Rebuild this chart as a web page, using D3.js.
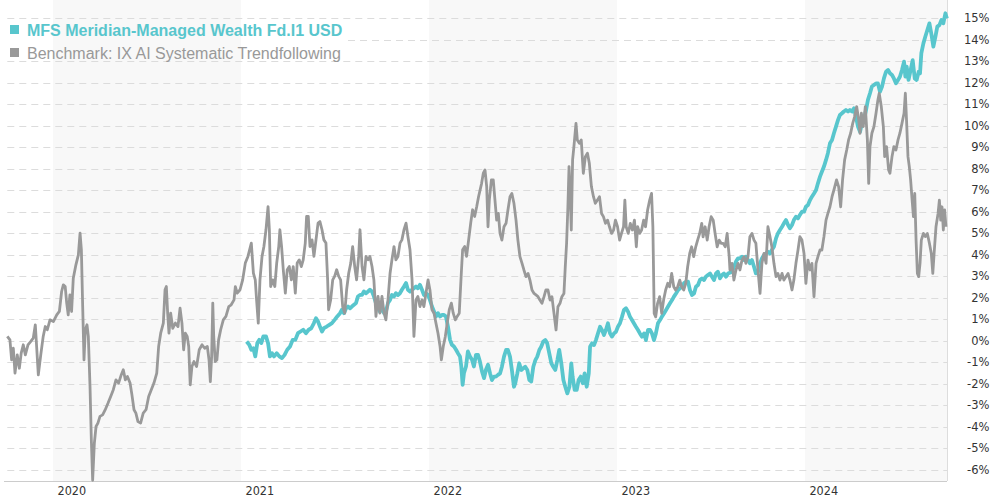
<!DOCTYPE html>
<html><head><meta charset="utf-8">
<script src="https://cdn.jsdelivr.net/npm/d3@7"></script>
<style>html,body{margin:0;padding:0;background:#fff;}svg{display:block;}</style>
</head><body>
<svg id="chart" width="990" height="500"></svg>
<script>
// ---- data (decimal year, % change) ----
const seriesNames = ["MFS Meridian-Managed Wealth Fd.I1 USD", "Benchmark: IX AI Systematic Trendfollowing"];
const yearTicks = [2020, 2021, 2022, 2023, 2024];
const yTicks = [-6,-5,-4,-3,-2,-1,0,1,2,3,4,5,6,7,8,9,10,11,12,13,14,15];

const benchmark = [
[2019.757,0.19],[2019.771,0.03],[2019.780,-0.9],[2019.789,-0.36],[2019.798,-1.52],[2019.810,-0.67],[2019.821,-1.29],[2019.831,-0.59],[2019.842,-0.2],[2019.853,-0.67],[2019.867,-0.2],[2019.881,-0.05],[2019.895,0.11],[2019.906,0.73],[2019.913,-0.28],[2019.922,-1.6],[2019.935,-0.67],[2019.948,0.19],[2019.959,0.65],[2019.970,0.5],[2019.984,0.96],
[2020.002,0.88],[2020.020,1.19],[2020.034,1.35],[2020.046,2.28],[2020.055,2.59],[2020.065,2.51],[2020.073,1.74],[2020.081,1.19],[2020.090,2.12],[2020.099,1.35],[2020.108,2.9],[2020.122,3.52],[2020.135,3.98],[2020.144,4.99],[2020.151,4.22],[2020.158,1.58],[2020.165,-0.9],[2020.172,0.5],[2020.181,0.73],[2020.188,0.19],[2020.197,-2.14],[2020.204,-4.62],[2020.211,-6.5],[2020.220,-4.78],[2020.229,-4.0],[2020.239,-3.84],[2020.250,-3.53],[2020.264,-3.46],[2020.278,-3.22],[2020.293,-2.91],[2020.307,-2.6],[2020.321,-2.29],[2020.335,-1.83],[2020.349,-1.98],[2020.363,-1.6],[2020.374,-1.36],[2020.385,-1.83],[2020.396,-1.67],[2020.410,-1.98],[2020.420,-2.53],[2020.431,-3.22],[2020.441,-3.38],[2020.452,-3.77],[2020.466,-3.84],[2020.480,-3.38],[2020.495,-3.22],[2020.509,-2.6],[2020.523,-2.29],[2020.537,-1.98],[2020.552,-1.52],[2020.562,-0.28],[2020.573,0.34],[2020.587,0.81],[2020.596,2.36],[2020.603,2.51],[2020.610,1.27],[2020.617,0.34],[2020.626,1.27],[2020.637,0.57],[2020.651,0.81],[2020.665,0.65],[2020.676,1.5],[2020.686,0.81],[2020.695,-0.43],[2020.704,0.34],[2020.714,0.19],[2020.722,-0.28],[2020.730,-2.06],[2020.739,-1.21],[2020.750,-0.98],[2020.764,-1.21],[2020.778,-0.43],[2020.793,-0.2],[2020.807,-0.36],[2020.821,-0.28],[2020.830,-0.9],[2020.837,-1.91],[2020.844,-0.74],[2020.850,1.74],[2020.855,0.19],[2020.863,-0.98],[2020.872,-0.9],[2020.881,0.03],[2020.892,0.5],[2020.906,0.96],[2020.920,1.12],[2020.935,1.58],[2020.948,1.66],[2020.963,1.89],[2020.970,2.51],[2020.980,2.2],[2020.995,2.36],
[2021.009,2.82],[2021.023,3.6],[2021.037,3.91],[2021.055,4.53],[2021.066,3.13],[2021.076,2.82],[2021.083,1.89],[2021.092,0.81],[2021.101,2.82],[2021.112,3.91],[2021.122,4.37],[2021.133,5.15],[2021.144,6.23],[2021.151,5.15],[2021.158,2.51],[2021.169,2.82],[2021.180,2.51],[2021.190,3.6],[2021.201,4.37],[2021.207,5.15],[2021.216,4.37],[2021.225,3.29],[2021.236,2.2],[2021.246,3.29],[2021.257,3.44],[2021.268,2.82],[2021.278,3.44],[2021.289,2.2],[2021.299,3.6],[2021.310,3.75],[2021.321,3.44],[2021.331,3.75],[2021.342,4.53],[2021.349,5.77],[2021.358,5.77],[2021.367,4.37],[2021.378,4.68],[2021.388,3.91],[2021.399,4.68],[2021.410,5.46],[2021.420,5.53],[2021.431,5.15],[2021.441,4.68],[2021.452,4.53],[2021.461,2.82],[2021.466,1.43],[2021.477,1.89],[2021.488,2.82],[2021.498,2.98],[2021.509,3.29],[2021.520,2.98],[2021.530,2.82],[2021.541,1.58],[2021.552,1.27],[2021.562,2.36],[2021.573,3.13],[2021.584,3.6],[2021.594,4.37],[2021.605,3.44],[2021.615,2.82],[2021.626,3.91],[2021.633,5.15],[2021.644,3.44],[2021.654,2.82],[2021.665,3.91],[2021.676,3.75],[2021.686,3.91],[2021.697,3.44],[2021.707,2.82],[2021.718,1.12],[2021.729,2.05],[2021.739,1.27],[2021.750,2.05],[2021.761,1.27],[2021.771,0.96],[2021.782,1.89],[2021.793,3.13],[2021.803,3.75],[2021.814,4.37],[2021.824,3.75],[2021.835,3.91],[2021.846,4.53],[2021.856,4.68],[2021.867,5.15],[2021.878,5.46],[2021.888,4.84],[2021.899,4.22],[2021.910,2.82],[2021.920,0.19],[2021.931,1.89],[2021.941,2.05],[2021.952,1.58],[2021.963,1.89],[2021.973,1.58],[2021.984,2.2],[2021.995,2.82],
[2022.005,2.36],[2022.016,1.43],[2022.027,1.27],[2022.037,0.81],[2022.048,0.34],[2022.059,-0.28],[2022.066,-0.9],[2022.076,-0.28],[2022.087,0.19],[2022.097,0.81],[2022.108,1.43],[2022.119,1.74],[2022.129,1.27],[2022.140,0.96],[2022.150,1.12],[2022.161,1.27],[2022.172,3.13],[2022.179,4.22],[2022.190,4.37],[2022.200,3.91],[2022.211,4.68],[2022.222,5.46],[2022.232,6.08],[2022.243,5.77],[2022.254,6.23],[2022.264,6.7],[2022.280,7.31],[2022.289,7.78],[2022.298,7.93],[2022.307,7.16],[2022.314,5.29],[2022.321,6.53],[2022.332,7.47],[2022.342,7.47],[2022.351,6.53],[2022.360,5.6],[2022.369,5.91],[2022.378,4.98],[2022.388,4.67],[2022.399,5.29],[2022.410,5.45],[2022.420,6.07],[2022.431,6.69],[2022.441,6.84],[2022.452,6.38],[2022.463,5.6],[2022.473,4.67],[2022.484,3.9],[2022.495,3.59],[2022.505,3.28],[2022.516,2.97],[2022.527,3.12],[2022.537,2.81],[2022.548,2.35],[2022.559,2.19],[2022.569,2.12],[2022.580,2.04],[2022.590,1.88],[2022.601,1.73],[2022.612,2.04],[2022.622,2.35],[2022.633,2.35],[2022.644,1.88],[2022.654,2.04],[2022.665,1.26],[2022.676,0.49],[2022.686,1.57],[2022.697,1.73],[2022.707,2.04],[2022.718,2.19],[2022.725,3.43],[2022.732,4.52],[2022.739,6.22],[2022.745,8.09],[2022.750,7.16],[2022.757,5.14],[2022.764,8.4],[2022.771,9.02],[2022.782,10.1],[2022.789,9.33],[2022.800,9.17],[2022.810,9.33],[2022.821,7.78],[2022.832,8.55],[2022.843,8.71],[2022.853,8.24],[2022.864,7.16],[2022.875,6.69],[2022.885,6.38],[2022.896,6.53],[2022.907,6.69],[2022.918,5.91],[2022.928,5.76],[2022.939,5.45],[2022.950,5.6],[2022.960,5.29],[2022.971,4.98],[2022.982,5.14],[2022.992,5.6],
[2023.003,5.29],[2023.014,4.67],[2023.024,4.98],[2023.035,5.29],[2023.042,6.53],[2023.049,5.29],[2023.060,4.98],[2023.071,5.45],[2023.082,5.14],[2023.093,5.6],[2023.103,4.36],[2023.110,5.29],[2023.121,4.98],[2023.131,5.14],[2023.142,5.6],[2023.152,5.29],[2023.163,6.07],[2023.174,6.53],[2023.184,6.84],[2023.191,5.29],[2023.198,1.26],[2023.206,1.1],[2023.216,1.73],[2023.227,2.04],[2023.238,1.26],[2023.248,1.88],[2023.259,2.35],[2023.270,2.66],[2023.280,2.5],[2023.291,3.12],[2023.302,2.5],[2023.312,2.35],[2023.323,2.5],[2023.334,2.81],[2023.344,2.5],[2023.355,2.35],[2023.366,2.66],[2023.376,3.43],[2023.387,4.05],[2023.397,4.36],[2023.408,3.9],[2023.419,4.36],[2023.429,4.67],[2023.440,4.98],[2023.451,5.45],[2023.458,4.82],[2023.469,5.29],[2023.480,4.67],[2023.490,5.29],[2023.501,5.76],[2023.512,5.6],[2023.522,4.98],[2023.533,4.36],[2023.544,4.67],[2023.554,4.52],[2023.565,4.52],[2023.576,4.36],[2023.586,4.98],[2023.597,3.9],[2023.601,3.28],[2023.612,3.59],[2023.622,2.81],[2023.633,3.28],[2023.644,3.59],[2023.654,3.28],[2023.665,3.74],[2023.676,3.9],[2023.686,3.59],[2023.697,3.9],[2023.707,4.83],[2023.718,4.98],[2023.729,4.67],[2023.739,4.52],[2023.750,3.28],[2023.761,2.19],[2023.771,3.59],[2023.782,4.05],[2023.793,3.59],[2023.803,5.29],[2023.814,4.83],[2023.824,4.36],[2023.835,3.59],[2023.846,2.97],[2023.856,3.12],[2023.867,2.81],[2023.878,3.12],[2023.888,2.81],[2023.899,2.97],[2023.910,3.12],[2023.920,2.81],[2023.931,2.35],[2023.941,2.81],[2023.952,3.59],[2023.963,4.21],[2023.973,4.83],[2023.984,4.67],[2023.995,4.05],
[2024.005,2.66],[2024.016,3.74],[2024.027,3.28],[2024.037,3.59],[2024.048,2.04],[2024.059,3.59],[2024.069,3.9],[2024.080,4.21],[2024.090,4.21],[2024.101,4.83],[2024.112,5.6],[2024.122,5.91],[2024.133,6.22],[2024.144,6.69],[2024.154,7.0],[2024.168,7.47],[2024.179,7.16],[2024.190,6.22],[2024.200,7.47],[2024.211,8.4],[2024.222,8.86],[2024.232,9.33],[2024.243,9.64],[2024.254,10.1],[2024.264,10.4],[2024.275,10.88],[2024.286,10.26],[2024.293,9.64],[2024.300,10.57],[2024.310,9.95],[2024.321,10.88],[2024.332,9.33],[2024.339,7.31],[2024.346,9.02],[2024.356,9.64],[2024.367,9.95],[2024.378,10.57],[2024.388,11.19],[2024.395,11.5],[2024.406,10.88],[2024.417,9.95],[2024.424,8.55],[2024.434,9.02],[2024.445,7.93],[2024.452,7.78],[2024.463,8.55],[2024.473,9.02],[2024.484,8.86],[2024.495,9.33],[2024.505,9.64],[2024.516,10.1],[2024.527,10.57],[2024.534,11.5],[2024.541,10.1],[2024.548,8.55],[2024.555,8.09],[2024.562,7.47],[2024.570,6.53],[2024.577,5.76],[2024.584,6.84],[2024.591,4.67],[2024.598,3.12],[2024.605,2.97],[2024.612,3.59],[2024.619,4.67],[2024.630,4.98],[2024.640,4.83],[2024.651,4.98],[2024.662,4.52],[2024.672,4.05],[2024.680,3.12],[2024.687,4.05],[2024.697,5.29],[2024.708,5.91],[2024.715,6.53],[2024.722,5.6],[2024.729,6.22],[2024.736,5.14],[2024.743,6.07],[2024.750,5.29]
];

const fund = [
[2021.030,-0.05],[2021.044,-0.2],[2021.055,-0.43],[2021.066,-0.36],[2021.076,-0.74],[2021.087,-0.12],[2021.097,0.03],[2021.108,-0.12],[2021.119,0.19],[2021.133,0.19],[2021.144,-0.12],[2021.154,-0.74],[2021.165,-0.59],[2021.176,-0.74],[2021.190,-0.59],[2021.204,-0.74],[2021.218,-0.82],[2021.232,-0.67],[2021.246,-0.43],[2021.261,-0.28],[2021.275,0.03],[2021.289,0.03],[2021.303,0.34],[2021.317,0.42],[2021.331,0.5],[2021.346,0.34],[2021.360,0.5],[2021.374,0.57],[2021.388,0.81],[2021.399,1.04],[2021.410,0.88],[2021.420,0.65],[2021.431,0.42],[2021.441,0.57],[2021.456,0.65],[2021.470,0.73],[2021.484,0.81],[2021.498,0.96],[2021.512,1.12],[2021.527,1.27],[2021.537,1.43],[2021.548,1.27],[2021.559,1.5],[2021.569,1.58],[2021.580,1.5],[2021.590,1.58],[2021.601,1.66],[2021.612,1.74],[2021.622,2.05],[2021.633,2.12],[2021.644,2.12],[2021.654,2.28],[2021.665,2.2],[2021.676,2.28],[2021.686,2.36],[2021.697,2.28],[2021.707,2.05],[2021.718,1.74],[2021.729,1.58],[2021.739,1.35],[2021.750,1.58],[2021.761,1.27],[2021.771,1.35],[2021.782,1.74],[2021.793,1.89],[2021.803,2.12],[2021.814,2.05],[2021.824,2.2],[2021.835,2.12],[2021.846,2.2],[2021.856,2.36],[2021.867,2.51],[2021.878,2.67],[2021.888,2.36],[2021.899,2.28],[2021.910,2.36],[2021.920,2.43],[2021.931,2.51],[2021.941,2.43],[2021.952,2.59],[2021.963,2.36],[2021.973,2.12],[2021.984,2.2],[2021.995,2.12],
[2022.005,1.89],[2022.016,1.58],[2022.027,1.35],[2022.037,1.12],[2022.048,1.27],[2022.059,1.12],[2022.069,1.19],[2022.080,1.19],[2022.090,1.12],[2022.101,0.65],[2022.112,0.03],[2022.122,-0.2],[2022.133,-0.28],[2022.144,-0.43],[2022.154,-0.59],[2022.165,-0.74],[2022.172,-1.21],[2022.179,-2.06],[2022.186,-1.52],[2022.197,-1.21],[2022.207,-0.51],[2022.218,-0.74],[2022.229,-0.9],[2022.239,-1.21],[2022.250,-0.67],[2022.261,-0.67],[2022.271,-0.98],[2022.282,-1.44],[2022.293,-1.75],[2022.303,-1.36],[2022.314,-1.13],[2022.325,-1.53],[2022.335,-1.84],[2022.346,-1.68],[2022.356,-1.68],[2022.367,-1.6],[2022.378,-1.53],[2022.388,-1.22],[2022.399,-0.75],[2022.410,-0.44],[2022.420,-0.44],[2022.431,-0.75],[2022.441,-1.37],[2022.452,-2.15],[2022.459,-1.99],[2022.470,-1.53],[2022.480,-1.06],[2022.491,-1.37],[2022.502,-1.29],[2022.512,-1.22],[2022.523,-1.37],[2022.534,-1.84],[2022.544,-1.91],[2022.555,-1.22],[2022.566,-0.91],[2022.576,-0.75],[2022.587,-0.44],[2022.597,-0.29],[2022.608,-0.05],[2022.619,0.02],[2022.629,-0.13],[2022.640,-0.6],[2022.651,-1.06],[2022.661,-1.22],[2022.672,-1.37],[2022.683,-0.91],[2022.693,-0.44],[2022.704,-1.06],[2022.715,-1.84],[2022.725,-2.15],[2022.736,-2.46],[2022.747,-2.15],[2022.757,-1.06],[2022.764,-1.68],[2022.775,-2.3],[2022.786,-2.3],[2022.796,-1.84],[2022.807,-1.68],[2022.818,-1.99],[2022.828,-1.53],[2022.839,-2.15],[2022.850,-1.53],[2022.857,-0.29],[2022.867,-0.13],[2022.878,-0.21],[2022.888,0.02],[2022.899,0.33],[2022.910,0.64],[2022.920,0.49],[2022.931,0.26],[2022.941,0.49],[2022.952,0.8],[2022.963,0.33],[2022.973,0.18],[2022.984,0.33],[2022.995,0.41],
[2023.005,0.64],[2023.016,0.8],[2023.027,1.11],[2023.037,1.42],[2023.048,1.5],[2023.059,1.34],[2023.069,1.11],[2023.080,0.95],[2023.090,0.8],[2023.101,0.64],[2023.112,0.49],[2023.122,0.33],[2023.133,0.18],[2023.144,0.33],[2023.154,0.02],[2023.165,0.49],[2023.176,0.49],[2023.186,0.33],[2023.197,0.02],[2023.207,0.33],[2023.218,0.8],[2023.229,0.95],[2023.239,1.11],[2023.250,1.26],[2023.261,1.42],[2023.271,1.57],[2023.282,1.73],[2023.293,1.88],[2023.303,2.04],[2023.314,2.19],[2023.325,2.35],[2023.335,2.43],[2023.346,2.5],[2023.356,2.66],[2023.367,2.74],[2023.378,2.74],[2023.388,2.35],[2023.399,2.12],[2023.410,2.19],[2023.420,2.5],[2023.431,2.58],[2023.441,2.81],[2023.452,2.89],[2023.463,2.81],[2023.473,2.97],[2023.484,3.05],[2023.495,3.12],[2023.505,2.97],[2023.516,2.81],[2023.527,3.12],[2023.537,3.2],[2023.548,2.89],[2023.559,3.05],[2023.569,3.12],[2023.580,2.97],[2023.591,3.12],[2023.612,3.2],[2023.622,3.43],[2023.633,3.67],[2023.644,3.82],[2023.654,3.82],[2023.665,3.9],[2023.676,3.74],[2023.686,3.9],[2023.697,3.74],[2023.707,3.59],[2023.718,3.74],[2023.729,3.43],[2023.739,3.12],[2023.750,3.2],[2023.761,3.59],[2023.771,3.82],[2023.782,3.98],[2023.793,4.05],[2023.803,4.13],[2023.814,4.05],[2023.824,4.21],[2023.835,4.36],[2023.846,4.75],[2023.856,4.98],[2023.867,5.14],[2023.878,5.29],[2023.888,5.45],[2023.899,5.6],[2023.910,5.37],[2023.920,5.22],[2023.931,5.37],[2023.941,5.6],[2023.952,5.76],[2023.963,5.68],[2023.973,5.84],[2023.984,5.99],[2023.995,5.99],
[2024.005,6.22],[2024.016,6.3],[2024.027,6.53],[2024.037,6.69],[2024.048,6.84],[2024.059,7.0],[2024.069,7.31],[2024.080,7.62],[2024.090,7.85],[2024.101,8.09],[2024.112,8.4],[2024.122,8.71],[2024.133,9.17],[2024.144,9.33],[2024.154,9.64],[2024.165,9.95],[2024.176,10.26],[2024.186,10.49],[2024.197,10.57],[2024.207,10.65],[2024.218,10.72],[2024.229,10.65],[2024.239,10.72],[2024.250,10.65],[2024.261,10.8],[2024.271,10.41],[2024.282,9.95],[2024.293,9.71],[2024.303,10.1],[2024.314,10.26],[2024.325,10.72],[2024.335,11.19],[2024.346,11.5],[2024.356,11.81],[2024.367,11.88],[2024.378,11.96],[2024.388,11.96],[2024.399,11.57],[2024.410,11.81],[2024.420,12.19],[2024.431,12.5],[2024.442,12.58],[2024.452,12.43],[2024.463,12.35],[2024.473,12.19],[2024.484,11.96],[2024.495,12.12],[2024.505,12.27],[2024.516,12.58],[2024.527,12.97],[2024.534,12.27],[2024.541,12.74],[2024.551,12.12],[2024.562,12.58],[2024.573,13.04],[2024.584,12.19],[2024.594,12.12],[2024.605,12.5],[2024.612,12.43],[2024.619,13.36],[2024.630,13.82],[2024.640,14.13],[2024.651,14.44],[2024.662,14.75],[2024.672,14.28],[2024.683,13.67],[2024.694,14.13],[2024.704,14.6],[2024.715,14.67],[2024.726,14.91],[2024.736,14.75],[2024.747,15.22],[2024.755,14.98]
];

// ---- drawing ----
const svg = d3.select("#chart");
const plot = {left: 7.3, right: 947, top: 0, bottom: 481};
const fundColor = "#58c6cd", benchColor = "#999999";

const x = d3.scaleLinear().domain([2019.757, 2024.755]).range([plot.left, 946.9]);
const y = d3.scaleLinear().domain([-6, 15]).range([469.5, 18]);

// alternating year bands
const bandYears = [2020, 2022, 2024];
svg.append("g").selectAll("rect").data(bandYears).join("rect")
  .attr("x", d => x(d))
  .attr("width", d => Math.min(x(d + 1), plot.right) - x(d))
  .attr("y", plot.top).attr("height", plot.bottom - plot.top)
  .attr("fill", "#f8f8f8");

// legend area (grid hidden behind it)
const legendRight = 348, legendTop = 22, legendBottom = 60;

// grid lines
svg.append("g").selectAll("line").data(yTicks).join("line")
  .attr("x1", d => (y(d) > legendTop && y(d) < legendBottom) ? legendRight : plot.left)
  .attr("x2", plot.right)
  .attr("y1", d => Math.round(y(d)) + 0.5).attr("y2", d => Math.round(y(d)) + 0.5)
  .attr("stroke", "#dcdcdc").attr("stroke-width", 1)
  .attr("stroke-dasharray", "7,5");

// frame: bottom axis line and right border
svg.append("line").attr("x1", 4).attr("x2", plot.right).attr("y1", plot.bottom + 0.5).attr("y2", plot.bottom + 0.5)
  .attr("stroke", "#cccccc");
svg.append("line").attr("x1", plot.right + 0.5).attr("x2", plot.right + 0.5).attr("y1", 0).attr("y2", plot.bottom)
  .attr("stroke", "#dddddd");

// y axis (right)
const yAxis = d3.axisRight(y).tickValues(yTicks).tickSize(0).tickFormat(d => d + "%");
const gy = svg.append("g").attr("transform", "translate(990,0)").call(yAxis);
gy.select(".domain").remove();
gy.selectAll("text").attr("x", -0.5).attr("text-anchor", "end")
  .attr("font-family", "DejaVu Sans, Verdana, sans-serif").attr("font-size", 11.5).attr("fill", "#333");

// x axis (bottom)
const xAxis = d3.axisBottom(x).tickValues(yearTicks).tickSize(0).tickFormat(d3.format("d"));
const gx = svg.append("g").attr("transform", `translate(0,${plot.bottom})`).call(xAxis);
gx.select(".domain").remove();
gx.selectAll("text").attr("text-anchor", "start").attr("x", 4).attr("dy", 0).attr("y", 13.5)
  .attr("font-family", "DejaVu Sans Condensed, DejaVu Sans, sans-serif").attr("font-size", 12.5).attr("fill", "#333");

// lines
const line = d3.line().x(d => x(d[0])).y(d => y(d[1]));
svg.append("path").datum(fund).attr("d", line).attr("fill", "none")
  .attr("stroke", fundColor).attr("stroke-width", 3.8).attr("stroke-linejoin", "round");
svg.append("path").datum(benchmark).attr("d", line).attr("fill", "none")
  .attr("stroke", benchColor).attr("stroke-width", 2.8).attr("stroke-linejoin", "round");

// legend
const legendColors = [fundColor, benchColor];
const lg = svg.append("g").selectAll("g").data(seriesNames).join("g")
  .attr("transform", (d, i) => `translate(10,${25 + i * 23})`);
lg.append("rect").attr("width", 9).attr("height", 9).attr("fill", (d, i) => legendColors[i]);
lg.append("text").attr("x", 17).attr("y", 10.5)
  .attr("font-family", "Liberation Sans, Arial, sans-serif").attr("font-size", 16)
  .attr("font-weight", (d, i) => i === 0 ? "bold" : "normal")
  .attr("fill", (d, i) => legendColors[i])
  .text(d => d);
</script>
</body></html>
